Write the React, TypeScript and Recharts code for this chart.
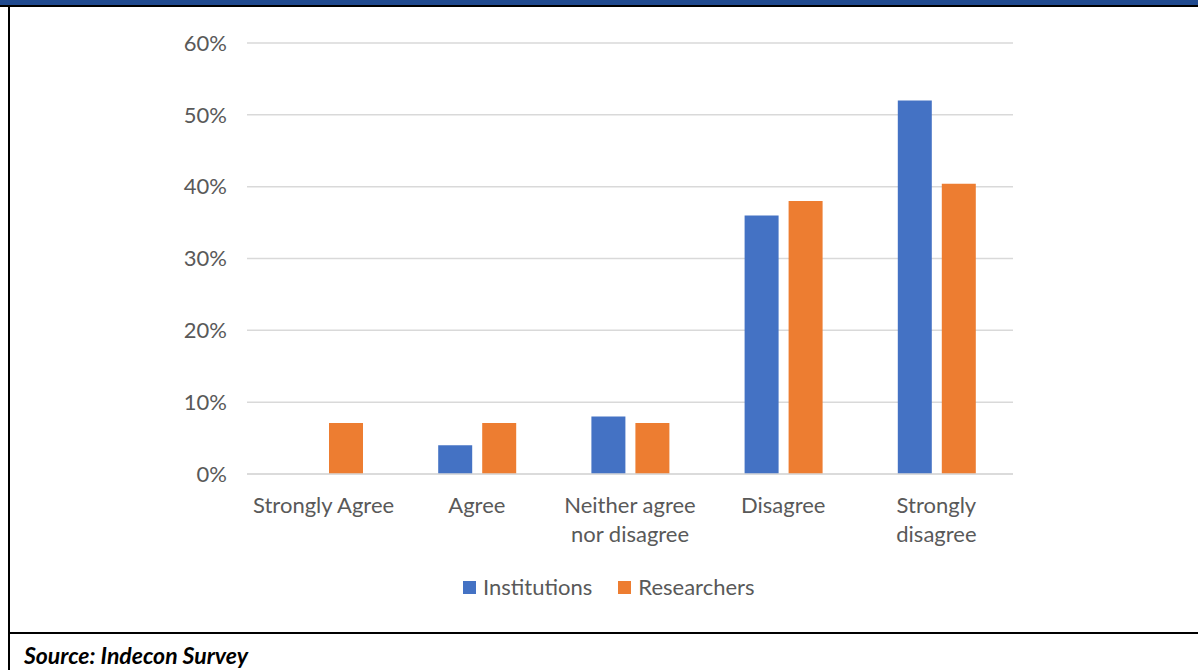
import { Bar, BarChart, CartesianGrid, XAxis, YAxis } from "recharts";

const categories = [
  "Strongly Agree",
  "Agree",
  "Neither agree nor disagree",
  "Disagree",
  "Strongly disagree",
];

const institutions = [0, 4, 8, 36, 52];
const researchers = [7.1, 7.1, 7.1, 38, 40.4];

const yTicks = [0, 10, 20, 30, 40, 50, 60];

// how each category label breaks onto lines under the axis
const tickLines: Record<string, string[]> = {
  "Neither agree nor disagree": ["Neither agree", "nor disagree"],
  "Strongly disagree": ["Strongly", "disagree"],
};

const series = [
  { key: "Institutions", color: "#4472C4" },
  { key: "Researchers", color: "#ED7D31" },
];

const data = categories.map((name, i) => ({
  name,
  Institutions: institutions[i],
  Researchers: researchers[i],
}));

const FONT = "Lato, 'Open Sans', sans-serif";

const CategoryTick = (props: any) => {
  const { x, y, payload } = props;
  const lines = tickLines[payload.value] ?? [payload.value];
  return (
    <text
      x={x}
      y={y}
      textAnchor="middle"
      fill="#595959"
      fontSize={22}
      fontFamily={FONT}
    >
      {lines.map((l, i) => (
        <tspan key={l} x={x} dy={i === 0 ? 31 : 29}>
          {l}
        </tspan>
      ))}
    </text>
  );
};

export default function App() {
  return (
    <div
      style={{
        position: "absolute",
        left: 0,
        top: 0,
        width: 1198,
        height: 670,
        background: "#fff",
        overflow: "hidden",
      }}
    >
      <div
        style={{
          position: "absolute",
          left: 0,
          top: 0,
          width: 1198,
          height: 5,
          background: "#204A8F",
        }}
      />
      <div
        style={{
          position: "absolute",
          left: 0,
          top: 5,
          width: 1198,
          height: 2,
          background: "#000",
        }}
      />
      <div
        style={{
          position: "absolute",
          left: 8,
          top: 5,
          width: 2,
          height: 665,
          background: "#000",
        }}
      />
      <div
        style={{
          position: "absolute",
          left: 8,
          top: 632,
          width: 1190,
          height: 2,
          background: "#000",
        }}
      />
      <div
        style={{
          position: "absolute",
          left: 24,
          top: 641,
          fontFamily: FONT,
          fontWeight: 700,
          fontStyle: "italic",
          fontSize: 23,
          color: "#000",
        }}
      >
        Source: Indecon Survey
      </div>
      <div style={{ position: "absolute", left: 0, top: 0 }}>
        <BarChart
          width={1198}
          height={620}
          data={data}
          margin={{ top: 43, right: 185, left: 0, bottom: 76 }}
          barSize={34}
          barGap={10}
        >
          <CartesianGrid
            vertical={false}
            stroke="#D9D9D9"
            strokeWidth={1.5}
          />
          <XAxis
            dataKey="name"
            axisLine={{ stroke: "#D9D9D9", strokeWidth: 1.5 }}
            tickLine={false}
            tick={<CategoryTick />}
            interval={0}
            height={70}
          />
          <YAxis
            width={247}
            domain={[0, 60]}
            ticks={yTicks}
            axisLine={false}
            tickLine={false}
            tickSize={0}
            tickMargin={20}
            tickFormatter={(v) => `${v}%`}
            tick={{ fill: "#595959", fontSize: 22, fontFamily: FONT }}
          />
          {series.map((s) => (
            <Bar
              key={s.key}
              dataKey={s.key}
              fill={s.color}
              isAnimationActive={false}
            />
          ))}
        </BarChart>
      </div>
      <div
        style={{
          position: "absolute",
          left: 463,
          top: 574,
          display: "flex",
          gap: 26,
          fontFamily: FONT,
          fontSize: 22,
          color: "#595959",
          alignItems: "center",
          lineHeight: "26px",
        }}
      >
        {series.map((s) => (
          <div key={s.key} style={{ display: "flex", alignItems: "center" }}>
            <span
              style={{
                width: 13,
                height: 13,
                background: s.color,
                display: "inline-block",
                marginRight: 7,
              }}
            />
            {s.key}
          </div>
        ))}
      </div>
    </div>
  );
}
